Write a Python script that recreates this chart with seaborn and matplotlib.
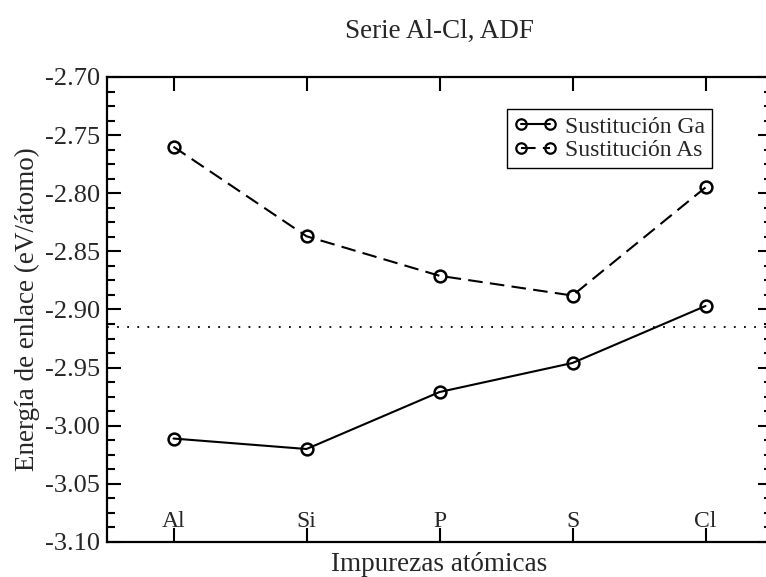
import matplotlib
matplotlib.use("Agg")
import matplotlib.pyplot as plt
from matplotlib.ticker import MultipleLocator, FormatStrFormatter
import seaborn as sns
import pandas as pd

# Impurity elements along the Al-Cl series
impurezas = ["Al", "Si", "P", "S", "Cl"]
# Binding energies (eV/atom) for each substitution site
sustitucion_ga = [-3.011, -3.020, -2.971, -2.946, -2.897]
sustitucion_as = [-2.760, -2.837, -2.871, -2.888, -2.795]
# Reference level (dotted line)
referencia = -2.915

sns.set_theme(style="white")
plt.rcParams["font.family"] = ["Liberation Serif", "DejaVu Serif"]
plt.rcParams["axes.unicode_minus"] = False

df = pd.DataFrame({
    "impureza": impurezas * 2,
    "energia": sustitucion_ga + sustitucion_as,
    "serie": ["Sustitución Ga"] * len(impurezas) + ["Sustitución As"] * len(impurezas),
})

W, H = 766, 577
fig = plt.figure(figsize=(W / 100, H / 100), dpi=100)
ax = fig.add_axes([107 / W, 35 / H, 665 / W, 465 / H])

estilos = {"Sustitución Ga": "-", "Sustitución As": (0, (7, 3.5))}
for serie, ls in estilos.items():
    sub = df[df["serie"] == serie]
    sns.lineplot(data=sub, x="impureza", y="energia", ax=ax, color="black",
                 linewidth=1.5, marker="o", markersize=8.5,
                 markerfacecolor="none", markeredgecolor="black",
                 markeredgewidth=1.8, label=serie, sort=False)
    ax.lines[-1].set_linestyle(ls)

ax.axhline(referencia, color="black", linewidth=1.3, linestyle=(0, (1, 4.6)))

ax.set_xlim(-0.5, len(impurezas) - 0.5)
ax.set_ylim(-3.10, -2.70)
ax.yaxis.set_major_locator(MultipleLocator(0.05))
ax.yaxis.set_minor_locator(MultipleLocator(0.0125))
ax.yaxis.set_major_formatter(FormatStrFormatter("%.2f"))
ax.set_xticks(range(len(impurezas)))
ax.set_xticklabels(impurezas)

for s in ax.spines.values():
    s.set_visible(True)
    s.set_color("black")
    s.set_linewidth(1.6)

ax.tick_params(axis="y", which="both", direction="in", left=True, right=True,
               color="black", width=1.5)
ax.tick_params(axis="y", which="major", length=10, labelsize=19, pad=5)
ax.tick_params(axis="y", which="minor", length=5.5)
ax.tick_params(axis="x", which="major", direction="in", bottom=True, top=True,
               length=10, width=1.5, color="black", labelsize=17, pad=-22)

ax.set_xlabel("Impurezas atómicas", fontsize=19.5, labelpad=7.5)
ax.set_ylabel("Energía de enlace (eV/átomo)", fontsize=19.5, labelpad=3.5)
ax.set_title("Serie Al-Cl, ADF", fontsize=19.5, pad=28)

leg = ax.legend(loc="upper right", bbox_to_anchor=(0.910, 0.931),
                borderaxespad=0, fontsize=17, numpoints=2, handlelength=1.82,
                handletextpad=0.34, labelspacing=0.08, borderpad=0.3,
                fancybox=False, framealpha=1, edgecolor="black")
leg.get_frame().set_linewidth(1.0)
for h in leg.legend_handles:
    h.set_markersize(7.5)
    h.set_markeredgewidth(1.6)

fig.savefig("out.png", dpi=100)
